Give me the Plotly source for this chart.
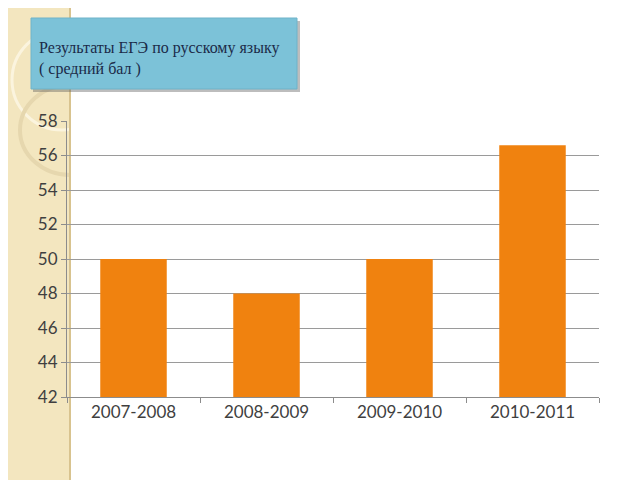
import plotly.graph_objects as go

# Data
years = ['2007-2008', '2008-2009', '2009-2010', '2010-2011']
avg_score = [50, 48, 50, 56.6]
y_ticks = [42, 44, 46, 48, 50, 52, 54, 56, 58]
title_text = 'Результаты ЕГЭ по русскому языку<br>( средний бал )'

# the page puts the figure 8px from the corner, so shift everything by 8
OFF = 8
W, H = 640 - OFF, 480 - OFF
# plot area in screen pixels: x 67..599, y 121..397
L, R, T, B = 67 - OFF, 599 - OFF, 121 - OFF, 397 - OFF


def px(x):
    return (x - OFF - L) / (R - L)


def py(y):
    return (B - (y - OFF)) / (B - T)


fig = go.Figure(go.Bar(
    x=years, y=avg_score,
    marker=dict(color='#F0820F', line=dict(width=0)),
    width=0.5,
))

shapes = [
    # beige strip on the left
    dict(type='rect', xref='paper', yref='paper', layer='below',
         x0=px(OFF), x1=px(70), y0=py(480), y1=py(OFF),
         fillcolor='#F3E6BF', line=dict(width=0)),
    # decorative circles
    dict(type='circle', xref='paper', yref='paper', layer='below',
         x0=px(12), x1=px(112), y0=py(130), y1=py(30),
         line=dict(color='#FBF4DE', width=3)),
    dict(type='circle', xref='paper', yref='paper', layer='below',
         x0=px(20), x1=px(120), y0=py(175), y1=py(85),
         line=dict(color='#E6D7AE', width=4)),
    # white covering right of strip
    dict(type='rect', xref='paper', yref='paper', layer='below',
         x0=px(70), x1=px(640), y0=py(480), y1=py(OFF),
         fillcolor='white', line=dict(width=0)),
    # strip edge
    dict(type='line', xref='paper', yref='paper', layer='below',
         x0=px(70), x1=px(70), y0=py(480), y1=py(OFF),
         line=dict(color='#D8C38F', width=2)),
    # title box shadow
    dict(type='rect', xref='paper', yref='paper',
         x0=px(33), x1=px(300), y0=py(92), y1=py(21),
         fillcolor='rgba(90,90,90,0.4)', line=dict(width=0)),
    # title box
    dict(type='rect', xref='paper', yref='paper',
         x0=px(31), x1=px(297), y0=py(89), y1=py(18),
         fillcolor='#7CC2D8', line=dict(color='#6FB3C9', width=1)),
]

fig.update_layout(
    width=W, height=H,
    margin=dict(l=L, r=W - R, t=T, b=H - B),
    paper_bgcolor='white', plot_bgcolor='rgba(0,0,0,0)',
    showlegend=False,
    shapes=shapes,
    annotations=[dict(
        text=title_text, xref='paper', yref='paper',
        x=px(37), y=py(59), xanchor='left', yanchor='middle',
        align='left', showarrow=False,
        font=dict(family="'Liberation Serif', 'DejaVu Serif', serif",
                  size=16, color='#1B2A48'),
    )],
    font=dict(family='Lato', size=17, color='#3F3F3F'),
)

fig.update_yaxes(
    range=[42, 58], tickvals=y_ticks,
    showgrid=True, gridcolor='#9A9A9A', gridwidth=1,
    showline=True, linecolor='#8C8C8C', linewidth=1,
    ticks='outside', ticklen=5, tickcolor='#8C8C8C',
    zeroline=False, tickfont=dict(size=17),
)
fig.update_xaxes(
    showline=True, linecolor='#8C8C8C', linewidth=1,
    ticks='outside', ticklen=5, tickcolor='#8C8C8C',
    tickson='boundaries', tickfont=dict(size=17),
)

fig.write_html('out.html')
